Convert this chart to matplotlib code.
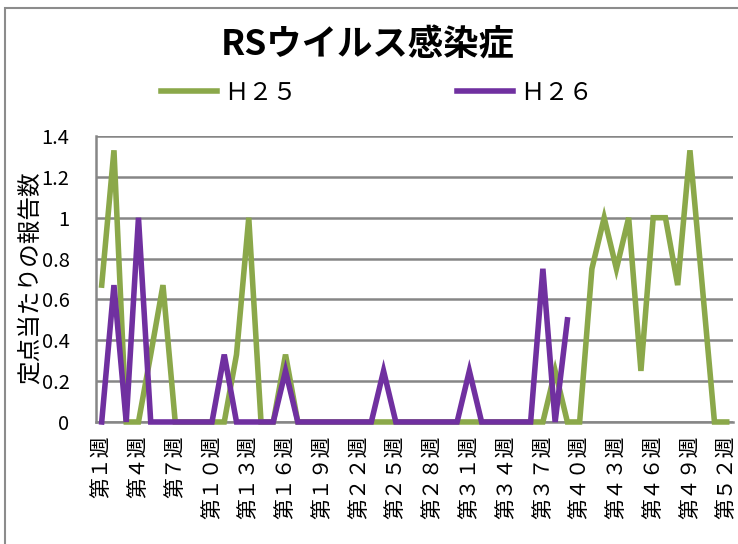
import numpy as np
import matplotlib.pyplot as plt
from matplotlib.patches import Rectangle

plt.rcParams['font.family'] = ['Noto Sans CJK JP', 'DejaVu Sans']

# データ (週ごとの定点当たり報告数)
weeks = list(range(1, 53))
h25 = [0.67, 1.33, 0, 0, 0.33, 0.67, 0, 0, 0, 0,
       0, 0.33, 1, 0, 0, 0.33, 0, 0, 0, 0,
       0, 0, 0, 0, 0, 0, 0, 0, 0, 0,
       0, 0, 0, 0, 0, 0, 0, 0.25, 0, 0,
       0.75, 1, 0.75, 1, 0.25, 1, 1, 0.67, 1.33, 0.67,
       0, 0]
h26 = [0, 0.67, 0, 1, 0, 0, 0, 0, 0, 0,
       0.33, 0, 0, 0, 0, 0.25, 0, 0, 0, 0,
       0, 0, 0, 0.25, 0, 0, 0, 0, 0, 0,
       0.25, 0, 0, 0, 0, 0, 0.75, 0, 0.5]
series_names = ['Ｈ２５', 'Ｈ２６']
title = 'RSウイルス感染症'
ylabel = '定点当たりの報告数'
yticks = [0, 0.2, 0.4, 0.6, 0.8, 1, 1.2, 1.4]

zen = str.maketrans('0123456789', '０１２３４５６７８９')
tick_weeks = weeks[::3]
tick_labels = [('第%d週' % w).translate(zen) for w in tick_weeks]

green = '#8BA84A'
purple = '#7030A0'
gray = '#868686'

fig = plt.figure(figsize=(7.38, 5.44), dpi=100)
# グラフ枠
fig.patches.append(Rectangle((5 / 738, -0.1), 1.1, 1.1 - 8 / 544,
                             transform=fig.transFigure, fill=False,
                             edgecolor='#8c8c8c', linewidth=1.5))
ax = fig.add_axes([0.130, 0.2243, 0.863, 0.5257])

x = np.arange(len(weeks))
ax.plot(x, h25, color=green, lw=4, label=series_names[0], clip_on=False,
        zorder=3, solid_joinstyle='miter')
ax.plot(x[:len(h26)], h26, color=purple, lw=4, label=series_names[1],
        clip_on=False, zorder=4, solid_joinstyle='miter')

ax.set_xlim(-0.47, len(weeks) - 0.5)
ax.set_ylim(0, 1.4)
ax.set_yticks(yticks)
ax.set_yticklabels(['%g' % v for v in yticks], fontsize=14.5)
ax.set_xticks(x[::3])
ax.set_xticklabels(tick_labels, rotation=90, fontsize=15)
ax.tick_params(axis='both', length=0)
ax.tick_params(axis='x', pad=10)
ax.tick_params(axis='y', pad=19)

ax.yaxis.grid(True, color=gray, lw=1.8)
ax.set_axisbelow(True)
for s in ['top', 'right']:
    ax.spines[s].set_visible(False)
for s in ['left', 'bottom']:
    ax.spines[s].set_color(gray)
    ax.spines[s].set_linewidth(1.8)

fig.text(30 / 738, 1 - 278 / 544, ylabel, rotation=90, fontsize=17,
         ha='center', va='center')
fig.text(368 / 738, 1 - 45 / 544, title, fontsize=25.5, fontweight='bold',
         ha='center', va='center')

fig.legend(loc='center', bbox_to_anchor=(377 / 738, 1 - 93 / 544), ncol=2,
           frameon=False, fontsize=17.5, handlelength=2.3, handletextpad=0.3,
           columnspacing=6.6)

fig.savefig('out.png', dpi=100)
